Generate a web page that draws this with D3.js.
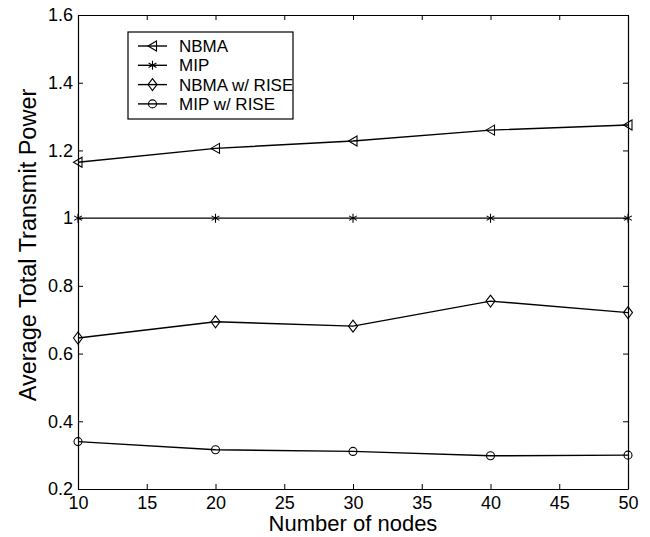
<!DOCTYPE html>
<html>
<head>
<meta charset="utf-8">
<script src="https://cdn.jsdelivr.net/npm/d3@7"></script>
<style>
  html, body { margin: 0; padding: 0; background: #fff; }
  svg { display: block; font-family: "Liberation Sans", Arial, sans-serif; }
</style>
</head>
<body>
<svg id="chart" width="650" height="537"></svg>
<script>
// ── DATA ────────────────────────────────────────────────────
const nodes = [10, 20, 30, 40, 50];
const nbma        = [1.165, 1.206, 1.228, 1.260, 1.275];
const mip         = [1.0, 1.0, 1.0, 1.0, 1.0];
const nbmaRise    = [0.646, 0.694, 0.681, 0.755, 0.721];
const mipRise     = [0.340, 0.316, 0.311, 0.298, 0.300];
const seriesNames = ['NBMA', 'MIP', 'NBMA w/ RISE', 'MIP w/ RISE'];
const seriesMarks = ['triangle', 'star', 'diamond', 'circle'];
const xTicks = [10, 15, 20, 25, 30, 35, 40, 45, 50];
const yTicks = [0.2, 0.4, 0.6, 0.8, 1, 1.2, 1.4, 1.6];

// ── SETUP ───────────────────────────────────────────────────
const W = 650, H = 537;
const M = { left: 78, right: 22, top: 15, bottom: 48 };
const PW = W - M.left - M.right;
const PH = H - M.top - M.bottom;
const TICK = 5;

const svg = d3.select('#chart');
const g = svg.append('g').attr('transform', `translate(${M.left},${M.top})`);

const x = d3.scaleLinear().domain([10, 50]).range([0, PW]);
const y = d3.scaleLinear().domain([0.2, 1.6]).range([PH, 0]);

// ── AXES (MATLAB box, inward ticks on all sides) ────────────
const fmt = d => String(d);

g.append('g').attr('transform', `translate(0,${PH})`)
  .call(d3.axisBottom(x).tickValues(xTicks).tickFormat(fmt).tickSizeInner(-TICK).tickSizeOuter(0).tickPadding(7));
g.append('g')
  .call(d3.axisTop(x).tickValues(xTicks).tickFormat('').tickSizeInner(-TICK).tickSizeOuter(0));
g.append('g')
  .call(d3.axisLeft(y).tickValues(yTicks).tickFormat(fmt).tickSizeInner(-TICK).tickSizeOuter(0).tickPadding(5));
g.append('g').attr('transform', `translate(${PW},0)`)
  .call(d3.axisRight(y).tickValues(yTicks).tickFormat('').tickSizeInner(-TICK).tickSizeOuter(0));

g.selectAll('.domain').attr('stroke', '#000').attr('stroke-width', 1.2);
g.selectAll('.tick line').attr('stroke', '#000').attr('stroke-width', 1);
g.selectAll('.tick text').attr('fill', '#000').style('font-size', '18px');

// ── AXIS TITLES ─────────────────────────────────────────────
svg.append('text')
  .attr('x', M.left + PW / 2).attr('y', 531)
  .attr('text-anchor', 'middle')
  .style('font-size', '22px')
  .text('Number of nodes');

svg.append('text')
  .attr('transform', `translate(36,245) rotate(-90)`)
  .attr('text-anchor', 'middle')
  .style('font-size', '23.5px')
  .text('Average Total Transmit Power');

// ── MARKERS ─────────────────────────────────────────────────
function markerPath(type) {
  switch (type) {
    case 'triangle': return 'M-4.5,0 L4,-5 L4,5 Z';
    case 'diamond':  return 'M0,-6 L4.5,0 L0,6 L-4.5,0 Z';
    case 'circle':   return 'M4,0 A4,4 0 1,1 -4,0 A4,4 0 1,1 4,0 Z';
    case 'star': {
      const r = 4.5, a = Math.PI / 6;
      return `M0,${-r} L0,${r} M${-r * Math.cos(a)},${-r * Math.sin(a)} L${r * Math.cos(a)},${r * Math.sin(a)} ` +
             `M${-r * Math.cos(a)},${r * Math.sin(a)} L${r * Math.cos(a)},${-r * Math.sin(a)}`;
    }
  }
}

// ── SERIES ──────────────────────────────────────────────────
const allSeries = [nbma, mip, nbmaRise, mipRise];
const line = d3.line().x((d, i) => x(nodes[i])).y(d => y(d));

allSeries.forEach((vals, si) => {
  g.append('path')
    .datum(vals)
    .attr('d', line)
    .attr('fill', 'none')
    .attr('stroke', '#000')
    .attr('stroke-width', 1.4);

  g.selectAll(null)
    .data(vals)
    .join('path')
    .attr('transform', (d, i) => `translate(${x(nodes[i])},${y(d)})`)
    .attr('d', markerPath(seriesMarks[si]))
    .attr('fill', 'none')
    .attr('stroke', '#000')
    .attr('stroke-width', 1.1);
});

// ── LEGEND ──────────────────────────────────────────────────
const leg = svg.append('g').attr('transform', 'translate(128,32)');
leg.append('rect')
  .attr('width', 165).attr('height', 87)
  .attr('fill', '#fff').attr('stroke', '#000').attr('stroke-width', 1.2);

seriesNames.forEach((name, i) => {
  const ly = 14 + i * 19.3;
  leg.append('line')
    .attr('x1', 10).attr('x2', 39).attr('y1', ly).attr('y2', ly)
    .attr('stroke', '#000').attr('stroke-width', 1.4);
  leg.append('path')
    .attr('transform', `translate(24.5,${ly})`)
    .attr('d', markerPath(seriesMarks[i]))
    .attr('fill', 'none').attr('stroke', '#000').attr('stroke-width', 1.1);
  leg.append('text')
    .attr('x', 51).attr('y', ly).attr('dy', '0.35em')
    .style('font-size', '17px')
    .text(name);
});
</script>
</body>
</html>
